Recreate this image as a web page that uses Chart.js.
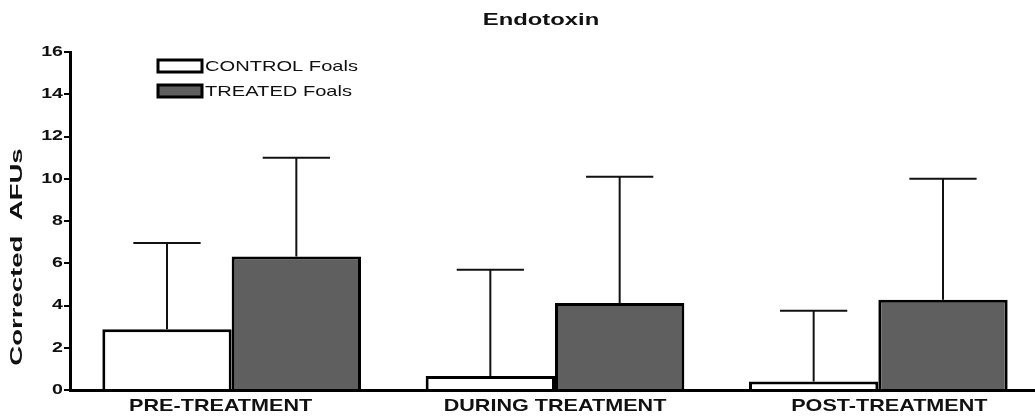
<!DOCTYPE html>
<html>
<head>
<meta charset="utf-8">
<script src="https://cdn.jsdelivr.net/npm/chart.js@4/dist/chart.umd.min.js"></script>
<style>
  html, body { margin: 0; padding: 0; background: #fff; overflow: hidden; }
  #wrap { width: 1040px; height: 419px; }
</style>
</head>
<body>
<div id="wrap"><canvas id="endotoxin"></canvas></div>
<script>
var categories = ["PRE-TREATMENT", "DURING TREATMENT", "POST-TREATMENT"];
var controlMeans = [2.88, 0.66, 0.40];
var controlErr = [4.08, 5.03, 3.35];
var treatedMeans = [6.32, 4.12, 4.27];
var treatedErr = [4.68, 5.98, 5.73];
var yTicks = [0, 2, 4, 6, 8, 10, 12, 14, 16];

var FONT = "Arial, 'Liberation Sans', sans-serif";

// the original figure's lettering is stretched sideways, so text is drawn
// with a horizontal scale factor
function wideText(ctx, text, x, y, font, stretch, align) {
    ctx.save();
    ctx.font = font;
    ctx.textBaseline = 'middle';
    var w = ctx.measureText(text).width * stretch;
    var left = x;
    if (align === 'center') left = x - w / 2;
    if (align === 'right') left = x - w;
    ctx.translate(left, y);
    ctx.scale(stretch, 1);
    ctx.textAlign = 'left';
    ctx.fillText(text, 0, 0);
    ctx.restore();
}

// one-sided (upper) error bars
var errorBars = {
    id: 'errorBars',
    afterDatasetsDraw: function(chart) {
        var ctx = chart.ctx;
        var y = chart.scales.y;
        ctx.save();
        ctx.strokeStyle = '#111';
        ctx.lineWidth = 2;
        chart.data.datasets.forEach(function(ds, i) {
            var meta = chart.getDatasetMeta(i);
            meta.data.forEach(function(bar, j) {
                var top = y.getPixelForValue(ds.data[j] + ds.errors[j]);
                var half = bar.width * 0.26;
                ctx.beginPath();
                ctx.moveTo(bar.x, bar.y);
                ctx.lineTo(bar.x, top);
                ctx.moveTo(bar.x - half, top);
                ctx.lineTo(bar.x + half, top);
                ctx.stroke();
            });
        });
        ctx.restore();
    }
};

// title, axis lettering and the boxed legend
var decorations = {
    id: 'decorations',
    afterDraw: function(chart) {
        var ctx = chart.ctx;
        var xs = chart.scales.x, ys = chart.scales.y;
        ctx.save();
        ctx.fillStyle = '#111';

        wideText(ctx, 'Endotoxin', 541, 20, 'bold 17px ' + FONT, 1.4, 'center');

        chart.data.labels.forEach(function(lab, i) {
            var shift = (i - 1) * 11;   // labels drift outward a little in the original
            wideText(ctx, lab, xs.getPixelForTick(i) + shift, 406, 'bold 17px ' + FONT, 1.27, 'center');
        });

        ys.ticks.forEach(function(t) {
            wideText(ctx, String(t.value), 63, ys.getPixelForValue(t.value), 'bold 14px ' + FONT, 1.4, 'right');
        });

        // rotated y title
        ctx.save();
        ctx.translate(17, 257);
        ctx.rotate(-Math.PI / 2);
        wideText(ctx, 'Corrected  AFUs', 0, 0, 'bold 17px ' + FONT, 1.62, 'center');
        ctx.restore();

        chart.data.datasets.forEach(function(ds, i) {
            var cy = 66 + i * 25;
            ctx.fillStyle = ds.backgroundColor;
            ctx.fillRect(158, cy - 6, 44, 12);
            ctx.strokeStyle = '#000';
            ctx.lineWidth = 3;
            ctx.strokeRect(158, cy - 6, 44, 12);
            ctx.fillStyle = '#111';
            wideText(ctx, ds.label, 205, cy + 1, '15px ' + FONT, 1.34, 'left');
        });
        ctx.restore();
    }
};

new Chart(document.getElementById('endotoxin'), {
    type: 'bar',
    data: {
        labels: categories,
        datasets: [{
            label: 'CONTROL Foals',
            data: controlMeans,
            errors: controlErr,
            backgroundColor: '#ffffff',
            borderColor: '#000',
            borderWidth: 3
        }, {
            label: 'TREATED Foals',
            data: treatedMeans,
            errors: treatedErr,
            backgroundColor: '#5f5f5f',
            borderColor: '#000',
            borderWidth: 3
        }]
    },
    options: {
        responsive: true,
        maintainAspectRatio: false,
        animation: false,
        layout: { padding: { top: 52, right: 0, left: 0, bottom: 0 } },
        categoryPercentage: 0.8,
        barPercentage: 1.0,
        plugins: {
            legend: { display: false },
            tooltip: { enabled: false }
        },
        scales: {
            x: {
                grid: { display: false },
                border: { display: true, color: '#000', width: 3 },
                ticks: { display: false },
                afterFit: function(scale) { scale.height = 29; }
            },
            y: {
                min: 0,
                max: 16,
                afterBuildTicks: function(scale) {
                    scale.ticks = yTicks.map(function(v) { return { value: v }; });
                },
                grid: {
                    display: true,
                    drawOnChartArea: false,
                    drawTicks: true,
                    tickLength: 6,
                    color: '#000',
                    lineWidth: 2
                },
                border: { display: true, color: '#000', width: 3 },
                ticks: { display: false },
                afterFit: function(scale) { scale.width = 70; }
            }
        }
    },
    plugins: [errorBars, decorations]
});
</script>
</body>
</html>
